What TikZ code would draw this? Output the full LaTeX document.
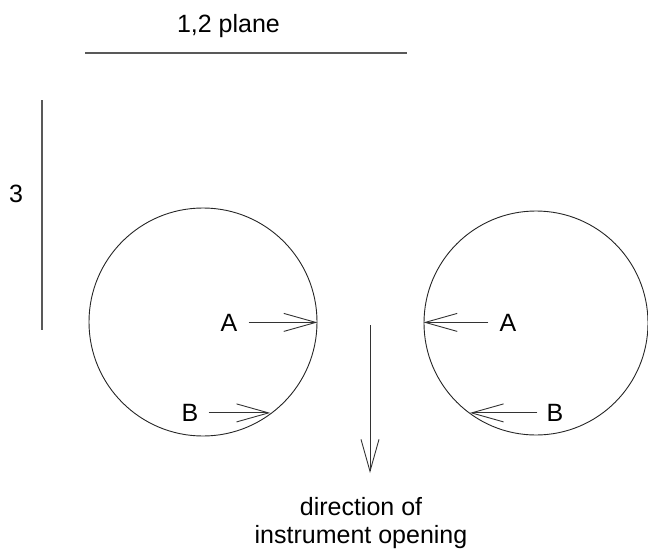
\documentclass[tikz,border=0pt]{standalone}
\usepackage{fontspec}
\setmainfont{Liberation Sans}
\usetikzlibrary{arrows.meta,positioning}

\begin{document}
\begin{tikzpicture}[x=1pt,y=-1pt,
  lbl/.style={font=\fontsize{25}{28}\selectfont, inner sep=0pt, anchor=base},
  cyl/.style={draw, circle, inner sep=0pt, line width=0.9pt, black!85},
  arr/.style={-{Straight Barb[length=32pt,width=18pt]}, line width=0.9pt, black!80},
  rule/.style={line width=1.1pt, black!65}]
  \useasboundingbox (0,0) rectangle (648,549);

  % axes of the planes
  \node[lbl] (p12lbl) at (228.5,32) {1,2 plane};
  \coordinate (p12a) at (85,53);
  \coordinate (p12b) at (407,53);
  \draw[rule] (p12a) -- (p12b);
  \node[lbl] (p3lbl) at (16,202) {3};
  \coordinate (p3a) at (42,100);
  \coordinate (p3b) at (42,330);
  \draw[rule] (p3a) -- (p3b);

  % the two cylinders
  \node[cyl, minimum size=228pt] (cylL) at (203,322) {};
  \node[cyl, minimum size=224pt] (cylR) at (536,323) {};

  % points A and B
  \node[lbl] (aL) at (229,331) {A};
  \node[lbl] (bL) at (190,421.5) {B};
  \node[lbl] (aR) at (508,331) {A};
  \node[lbl] (bR) at (555,421.5) {B};
  \draw[arr] ([xshift=11pt]aL.east) -- (aL.east -| cylL.east);
  \draw[arr] ([xshift=10pt]bL.east) -- (bL.east -| cylL.-54);
  \draw[arr] ([xshift=-11pt]aR.west) -- (aR.west -| cylR.west);
  \draw[arr] ([xshift=-9pt]bR.west) -- (bR.west -| cylR.234);

  % opening direction
  \coordinate (openTop) at (370,325);
  \coordinate (openTip) at (370,473);
  \draw[arr] (openTop) -- (openTip);
  \node[lbl, align=center] (dirlbl) at (361,543) {direction of\\instrument opening};
\end{tikzpicture}
\end{document}
